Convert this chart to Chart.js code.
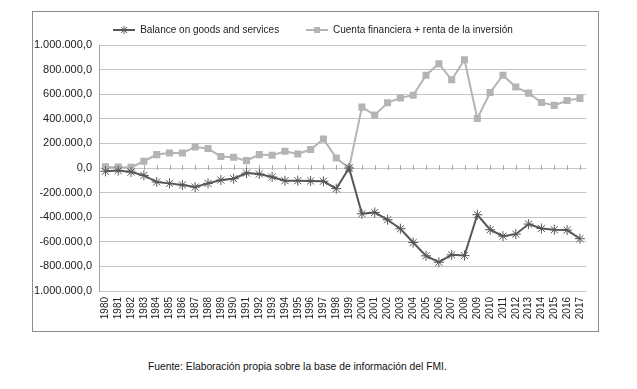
<!DOCTYPE html>
<html>
<head>
<meta charset="utf-8">
<script src="https://cdn.jsdelivr.net/npm/chart.js@4/dist/chart.umd.min.js"></script>
<style>
  html, body { margin: 0; padding: 0; background: #fff; }
  body { width: 637px; height: 389px; position: relative; overflow: hidden; font-family: "Liberation Sans", Arial, sans-serif; }
  .frame { position: absolute; left: 32px; top: 11px; width: 565px; height: 319px; border: 1px solid #8c8c8c; }
  .frame canvas { position: absolute; left: 0; top: 0; }
  .fuente { position: absolute; left: 148px; top: 361px; font-size: 10.3px; color: #111; white-space: nowrap; }
</style>
</head>
<body>
<div class="frame"><canvas id="chart" width="565" height="319"></canvas></div>
<div class="fuente">Fuente: Elaboración propia sobre la base de información del FMI.</div>
<script>
const years = ['1980','1981','1982','1983','1984','1985','1986','1987','1988','1989',
  '1990','1991','1992','1993','1994','1995','1996','1997','1998','1999',
  '2000','2001','2002','2003','2004','2005','2006','2007','2008','2009',
  '2010','2011','2012','2013','2014','2015','2016','2017']

const balanceGoods = [-27000, -21000, -33000, -60000, -114000, -125000, -138000, -155000, -125000, -98000,
  -87000, -41000, -49000, -73000, -103000, -103000, -106000, -108000, -168000, 0,
  -372000, -361000, -421000, -494000, -606000, -714000, -766000, -706000, -712000, -380000,
  -502000, -554000, -538000, -456000, -491000, -502000, -505000, -575000]

const cuentaFinanciera = [9000, 7000, 5000, 55000, 109000, 122000, 122000, 171000, 158000, 93000,
  87000, 60000, 109000, 103000, 136000, 114000, 150000, 236000, 81000, 0,
  495000, 430000, 530000, 570000, 592000, 754000, 848000, 717000, 880000, 403000,
  614000, 754000, 658000, 609000, 533000, 509000, 549000, 566000]

const seriesNames = ['Balance on goods and services', 'Cuenta financiera + renta de la inversión']
const seriesColors = ['#575757', '#b4b4b4']

const fmtTick = v => {
  const neg = v < 0
  const s = Math.abs(v).toFixed(0).replace(/\B(?=(\d{3})+(?!\d))/g, '.')
  return (neg ? '-' : '') + s + ',0'
}

// legend swatch: short line with the series marker on it
function legendIcon(color, style) {
  const c = document.createElement('canvas')
  c.width = 22; c.height = 10
  const g = c.getContext('2d')
  g.strokeStyle = color; g.lineWidth = 2
  g.beginPath(); g.moveTo(0, 5); g.lineTo(22, 5); g.stroke()
  if (style === 'rect') {
    g.fillStyle = color; g.fillRect(8, 2, 6, 6)
  } else {
    g.lineWidth = 1
    g.beginPath()
    g.moveTo(11, 1); g.lineTo(11, 9)
    g.moveTo(7, 5); g.lineTo(15, 5)
    g.moveTo(8, 2); g.lineTo(14, 8)
    g.moveTo(14, 2); g.lineTo(8, 8)
    g.stroke()
  }
  return c
}

// small tick marks along the zero line, like the category axis crossing at 0
const zeroTicks = {
  id: 'zeroTicks',
  beforeDatasetsDraw(chart) {
    const { ctx, scales: { x, y } } = chart
    const y0 = y.getPixelForValue(0)
    ctx.save()
    ctx.strokeStyle = '#a8a8a8'
    ctx.lineWidth = 1
    ctx.beginPath()
    for (let i = 0; i < years.length; i++) {
      const px = Math.round(x.getPixelForValue(i)) + 0.5
      ctx.moveTo(px, y0 - 3); ctx.lineTo(px, y0 + 2)
    }
    ctx.stroke()
    ctx.restore()
  }
}

Chart.defaults.font.family = '"Liberation Sans", Arial, sans-serif'
Chart.defaults.color = '#222'

new Chart(document.getElementById('chart'), {
  type: 'line',
  data: {
    labels: years,
    datasets: [
      {
        label: seriesNames[0],
        data: balanceGoods,
        borderColor: seriesColors[0],
        backgroundColor: seriesColors[0],
        borderWidth: 2,
        pointStyle: 'star',
        pointRadius: 5,
        pointBorderWidth: 1,
        pointBorderColor: seriesColors[0],
        tension: 0
      },
      {
        label: seriesNames[1],
        data: cuentaFinanciera,
        borderColor: seriesColors[1],
        backgroundColor: seriesColors[1],
        borderWidth: 2,
        pointStyle: 'rect',
        pointRadius: 5,
        pointBorderWidth: 0,
        tension: 0
      }
    ]
  },
  plugins: [zeroTicks],
  options: {
    responsive: false,
    animation: false,
    layout: { padding: { left: 0, right: 5, top: 0, bottom: 0 } },
    plugins: {
      tooltip: { enabled: false },
      legend: {
        display: true,
        position: 'top',
        labels: {
          font: { size: 10 },
          color: '#222',
          usePointStyle: true,
          pointStyleWidth: 22,
          padding: 13,
          // first entry gets a few trailing spaces to open the gap seen between the two items
          generateLabels: chart => chart.data.datasets.map((ds, i) => ({
            text: i === 0 ? ds.label + '     ' : ds.label,
            datasetIndex: i,
            pointStyle: legendIcon(seriesColors[i], i === 0 ? 'star' : 'rect'),
            fontColor: '#222',
            lineWidth: 0,
            hidden: false
          }))
        }
      }
    },
    scales: {
      x: {
        offset: true,
        grid: { display: false, drawTicks: false },
        border: { display: false },
        ticks: { autoSkip: false, minRotation: 90, maxRotation: 90, padding: 6, font: { size: 10 }, color: '#222' },
        afterFit: s => { s.height = 40 }
      },
      y: {
        min: -1000000,
        max: 1000000,
        ticks: { stepSize: 200000, callback: fmtTick, padding: 7, font: { size: 11 }, color: '#222' },
        grid: { color: '#c4c4c4', drawTicks: false },
        border: { display: true, color: '#a0a0a0' },
        afterFit: s => { s.width = 66 }
      }
    }
  }
})
</script>
</body>
</html>
